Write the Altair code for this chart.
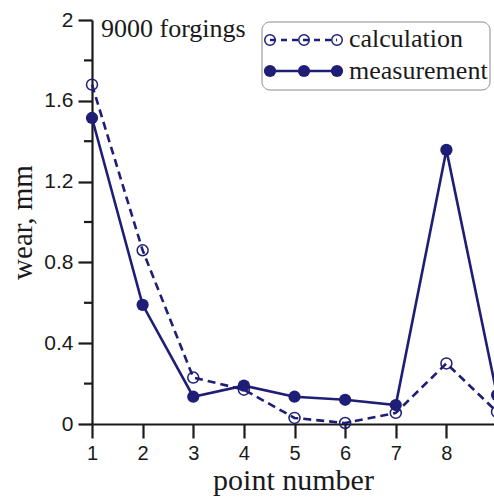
import altair as alt
import pandas as pd

# Wear along the die profile after 9000 forgings
points = [1, 2, 3, 4, 5, 6, 7, 8, 9]
calculation = [1.68, 0.86, 0.23, 0.17, 0.03, 0.005, 0.055, 0.30, 0.06]
measurement = [1.515, 0.59, 0.135, 0.19, 0.135, 0.12, 0.094, 1.357, 0.143]

y_labelled = [0, 0.4, 0.8, 1.2, 1.6, 2.0]
y_minor = [0.2, 0.6, 1.0, 1.4, 1.8]
x_ticks = [1, 2, 3, 4, 5, 6, 7, 8, 9]

NAVY = "#1e1e76"
AXIS = "#1a1a1a"
SERIF = "Liberation Serif"
SANS = "Liberation Sans"

df = pd.DataFrame({"point": points, "calc": calculation, "meas": measurement})
minor_df = pd.DataFrame({"tick": y_minor})


def x_enc(field="point"):
    return alt.X(
        f"{field}:Q",
        scale=alt.Scale(domain=[1, 8.94], nice=False, zero=False),
        axis=alt.Axis(
            values=x_ticks, title="point number", grid=False,
            tickSize=14, tickWidth=2.2, tickColor=AXIS,
            domainWidth=2.2, domainColor=AXIS,
            labelFont=SANS, labelFontSize=20, labelColor=AXIS, labelPadding=5,
            labelFlush=False, labelOverlap=False,
            titleFont=SERIF, titleFontSize=30, titleFontWeight="normal",
            titleColor=AXIS, titlePadding=2,
        ),
    )


def y_enc(field):
    return alt.Y(
        f"{field}:Q",
        scale=alt.Scale(domain=[0, 2], nice=False),
        axis=alt.Axis(
            values=y_labelled, format="~g", title="wear, mm", grid=False,
            tickSize=14, tickWidth=2.2, tickColor=AXIS,
            domainWidth=2.2, domainColor=AXIS,
            labelFont=SANS, labelFontSize=21, labelColor=AXIS, labelPadding=5,
            labelFlush=False, labelOverlap=False,
            titleFont=SERIF, titleFontSize=29, titleFontWeight="normal",
            titleColor=AXIS, titlePadding=6,
        ),
    )


base = alt.Chart(df)

# the series run past the right edge of the page, which cuts them off at point 9
calc_line = base.mark_line(color=NAVY, strokeWidth=2.6, strokeDash=[8, 5]).encode(
    x=x_enc(), y=y_enc("calc"))
calc_pts = base.mark_point(shape="circle", filled=False, color=NAVY, size=120,
                           strokeWidth=1.5, opacity=1).encode(x=x_enc(), y=y_enc("calc"))
meas_line = base.mark_line(color=NAVY, strokeWidth=2.6).encode(
    x=x_enc(), y=y_enc("meas"))
meas_pts = base.mark_point(shape="circle", filled=True, color=NAVY, size=150,
                           opacity=1).encode(x=x_enc(), y=y_enc("meas"))

# short unlabelled ticks between the labelled ones
minor_ticks = alt.Chart(minor_df).mark_rule(color=AXIS, strokeWidth=2.2).encode(
    y=y_enc("tick"), x=alt.value(-8), x2=alt.value(0))

one = alt.Data(values=[{}])

label = alt.Chart(one).mark_text(
    text="9000 forgings", font=SERIF, fontSize=26, color=AXIS, align="left", baseline="middle"
).encode(x=alt.value(9), y=alt.value(9))

# legend box
box = alt.Chart(one).mark_rect(
    fill="white", stroke="#8a8a8a", strokeWidth=1, cornerRadius=8
).encode(x=alt.value(170), x2=alt.value(398), y=alt.value(2), y2=alt.value(70))

leg_calc_line = alt.Chart(one).mark_rule(color=NAVY, strokeWidth=2.5, strokeDash=[6, 5]).encode(
    x=alt.value(178), x2=alt.value(245), y=alt.value(20))
leg_meas_line = alt.Chart(one).mark_rule(color=NAVY, strokeWidth=2.5).encode(
    x=alt.value(178), x2=alt.value(245), y=alt.value(51))

leg_pts = []
for px in (178, 212, 245):
    leg_pts.append(alt.Chart(one).mark_point(
        shape="circle", filled=False, color=NAVY, size=110, strokeWidth=1.5, opacity=1
    ).encode(x=alt.value(px), y=alt.value(20)))
    leg_pts.append(alt.Chart(one).mark_point(
        shape="circle", filled=True, color=NAVY, size=150, opacity=1
    ).encode(x=alt.value(px), y=alt.value(51)))

leg_txt1 = alt.Chart(one).mark_text(
    text="calculation", font=SERIF, fontSize=26, color=AXIS, align="left", baseline="middle"
).encode(x=alt.value(257), y=alt.value(19))
leg_txt2 = alt.Chart(one).mark_text(
    text="measurement", font=SERIF, fontSize=26, color=AXIS, align="left", baseline="middle"
).encode(x=alt.value(257), y=alt.value(51))

chart = alt.layer(
    calc_line, meas_line, calc_pts, meas_pts, minor_ticks, label,
    box, leg_calc_line, leg_meas_line, *leg_pts, leg_txt1, leg_txt2,
).properties(
    width=402, height=404,
    padding={"left": 92, "top": 20, "right": 0, "bottom": 76},
    autosize=alt.AutoSizeParams(type="none"),
).configure_view(stroke=None)

chart.save("out.html", embed_options={"renderer": "svg", "actions": False})
